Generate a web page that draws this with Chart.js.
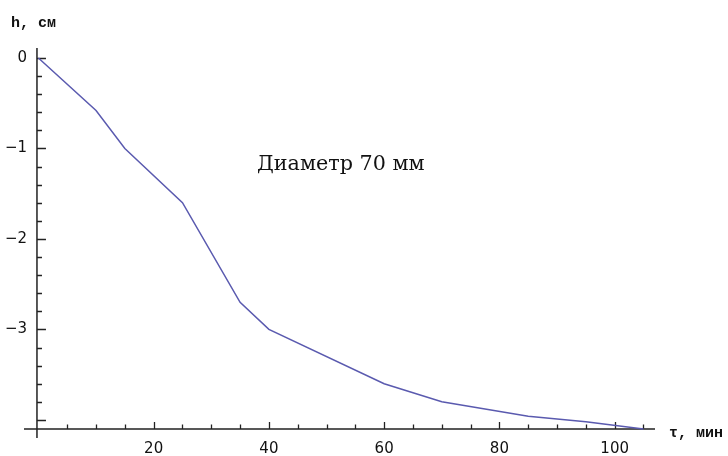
<!DOCTYPE html>
<html>
<head>
<meta charset="utf-8">
<script src="https://cdn.jsdelivr.net/npm/chart.js@4/dist/chart.umd.min.js"></script>
<style>
html,body{margin:0;padding:0;background:#fff;}
#wrap{width:728px;height:456px;position:relative;}
</style>
</head>
<body>
<div id="wrap"><canvas id="c" width="728" height="456"></canvas></div>
<script>
// Data
const timeMin = [0, 10, 15, 25, 35, 40, 60, 70, 85, 95, 105];
const heightCm = [0, -0.58, -1.0, -1.6, -2.7, -3.0, -3.6, -3.8, -3.96, -4.02, -4.1];
const xTickLabels = [20, 40, 60, 80, 100];
const yTickLabels = [0, -1, -2, -3];
const xAxisTitle = "τ, мин";
const yAxisTitle = "h, см";
const annotation = "Диаметр 70 мм";

const points = timeMin.map((t, i) => ({ x: t, y: heightCm[i] }));

const axesPlugin = {
  id: 'mmaAxes',
  beforeDatasetsDraw(chart) {
    const ctx = chart.ctx;
    const xs = chart.scales.x, ys = chart.scales.y;
    const ca = chart.chartArea;
    const x0 = xs.getPixelForValue(-0.25);
    const y0 = ys.getPixelForValue(-4.1);
    ctx.save();
    ctx.strokeStyle = '#222';
    ctx.lineWidth = 1.5;
    ctx.beginPath();
    ctx.moveTo(ca.left, y0); ctx.lineTo(ca.right, y0);
    ctx.moveTo(x0, ca.top); ctx.lineTo(x0, ca.bottom);
    ctx.stroke();
    // x ticks
    ctx.lineWidth = 1.3;
    ctx.beginPath();
    for (let v = 5; v <= 105; v += 5) {
      const px = Math.round(xs.getPixelForValue(v)) + 0.5;
      const len = (v % 20 === 0) ? 7 : 4.5;
      ctx.moveTo(px, y0); ctx.lineTo(px, y0 - len);
    }
    // y ticks
    for (let k = 0; k <= 20; k++) {
      const v = -k * 0.2;
      const py = Math.round(ys.getPixelForValue(v)) + 0.5;
      const len = (k % 5 === 0) ? 9 : 5;
      ctx.moveTo(x0, py); ctx.lineTo(x0 + len, py);
    }
    ctx.stroke();
    // tick labels
    ctx.fillStyle = '#111';
    ctx.font = '15px "DejaVu Sans"';
    ctx.textAlign = 'center';
    ctx.textBaseline = 'middle';
    xTickLabels.forEach(v => {
      ctx.fillText(String(v), xs.getPixelForValue(v), 449);
    });
    ctx.textAlign = 'right';
    yTickLabels.forEach(v => {
      const s = v === 0 ? '0' : '\u2212' + Math.abs(v);
      ctx.fillText(s, 27, ys.getPixelForValue(v));
    });
    // axis titles
    ctx.font = 'bold 15px "Liberation Mono"';
    ctx.textAlign = 'left';
    ctx.fillText(yAxisTitle, 11, 23);
    ctx.fillText(xAxisTitle, 669, 433);
    // annotation
    ctx.font = '20.7px "DejaVu Serif"';
    ctx.fillText(annotation, 257, 165);
    ctx.restore();
  }
};

new Chart(document.getElementById('c'), {
  type: 'line',
  data: {
    datasets: [{
      data: points,
      borderColor: 'rgb(90,90,175)',
      borderWidth: 1.5,
      pointRadius: 0,
      tension: 0,
      fill: false
    }]
  },
  options: {
    responsive: false,
    devicePixelRatio: 1,
    animation: false,
    layout: { padding: { left: 24, right: 73, top: 48, bottom: 18 } },
    plugins: { legend: { display: false }, tooltip: { enabled: false } },
    scales: {
      x: { type: 'linear', min: -2.5, max: 107, display: false },
      y: { type: 'linear', min: -4.2, max: 0.11, display: false }
    }
  },
  plugins: [axesPlugin]
});
</script>
</body>
</html>
